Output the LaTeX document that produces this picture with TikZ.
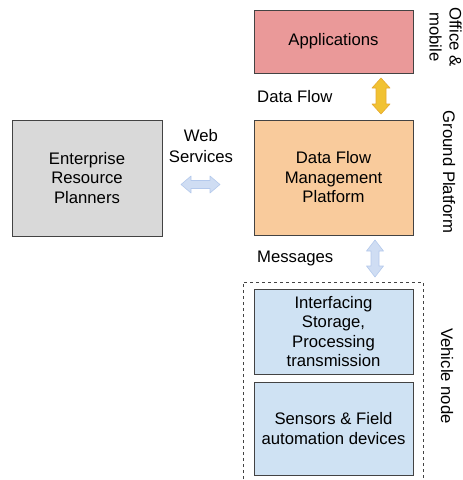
\documentclass[tikz,border=0pt]{standalone}
\usepackage{fontspec}
\setmainfont{Liberation Sans}
\usepackage{xcolor}
\usepackage{tikz}
\usetikzlibrary{positioning}
\definecolor{appfill}{HTML}{EA9999}
\definecolor{dfmfill}{HTML}{F9CB9C}
\definecolor{erpfill}{HTML}{D9D9D9}
\definecolor{vehfill}{HTML}{CFE2F3}
\definecolor{boxline}{HTML}{434343}
\definecolor{yelfill}{HTML}{F1C232}
\definecolor{yelline}{HTML}{E6A930}
\definecolor{bluefill}{HTML}{CFDDF3}
\definecolor{blueline}{HTML}{B4C9EC}
\tikzset{
    block/.style={rectangle, draw=boxline, line width=0.8pt, align=center, inner sep=2pt,
        font=\fontsize{16.7}{19.5}\selectfont},
    flowarrow/.style={draw=yelline, fill=yelfill, line width=0.6pt, line join=round},
    msgarrow/.style={draw=blueline, fill=bluefill, line width=0.6pt, line join=round},
    label/.style={align=center, inner sep=0pt, font=\fontsize{16.7}{21}\selectfont},
    side/.style={label, rotate=-90}
}

\begin{document}
\begin{tikzpicture}[x=1pt, y=-1pt]
    \useasboundingbox (0,0) rectangle (463,480);

    % Boxes
    \node[block, fill=appfill, minimum width=159pt, minimum height=63pt] (apps) at (333.5,41.5) {\raisebox{-1.5pt}{Applications}};
    \node[block, fill=dfmfill, minimum width=159pt, minimum height=115pt] (dfmp) at (333.5,177.5) {Data Flow\\Management\\Platform};
    \node[block, fill=erpfill, minimum width=150pt, minimum height=116pt] (erp) at (87,178) {Enterprise\\Resource\\Planners};
    \node[block, fill=vehfill, minimum width=159pt, minimum height=85pt] (iface) at (333.5,331.5) {Interfacing\\Storage,\\Processing\\transmission};
    \node[block, fill=vehfill, minimum width=159pt, minimum height=93pt] (sensors) at (333.5,428.5) {Sensors \& Field\\automation devices};

    % Vehicle node group
    \draw[boxline, line width=0.8pt, dashed] (243,485) -- (243,282) -- (423,282) -- (423,485);

    % Arrows
    \draw[flowarrow] (381,78) -- (390,88) -- (386,88) -- (386,104) -- (390,104) -- (381,114)
        -- (372,104) -- (376,104) -- (376,88) -- (372,88) -- cycle;
    \draw[msgarrow] (181,184.5) -- (191,176) -- (191,180.5) -- (210,180.5) -- (210,176) -- (220,184.5)
        -- (210,193) -- (210,188.5) -- (191,188.5) -- (191,193) -- cycle;
    \draw[msgarrow] (375,240) -- (383.5,251) -- (379,251) -- (379,266) -- (383.5,266) -- (375,277)
        -- (366.5,266) -- (371,266) -- (371,251) -- (366.5,251) -- cycle;

    % Labels
    \node[label, anchor=west] (dflabel) at (257,96.5) {Data Flow};
    \node[label] (wslabel) at (201,146) {Web\\Services};
    \node[label, anchor=west] (msglabel) at (257,258) {Messages};
    \node[side, font=\fontsize{16.7}{20}\selectfont] (office) at (445.5,37) {Office \&\\mobile};
    \node[side] (ground) at (449,172) {Ground Platform};
    \node[side] (vehicle) at (447,376) {Vehicle node};
\end{tikzpicture}
\end{document}
